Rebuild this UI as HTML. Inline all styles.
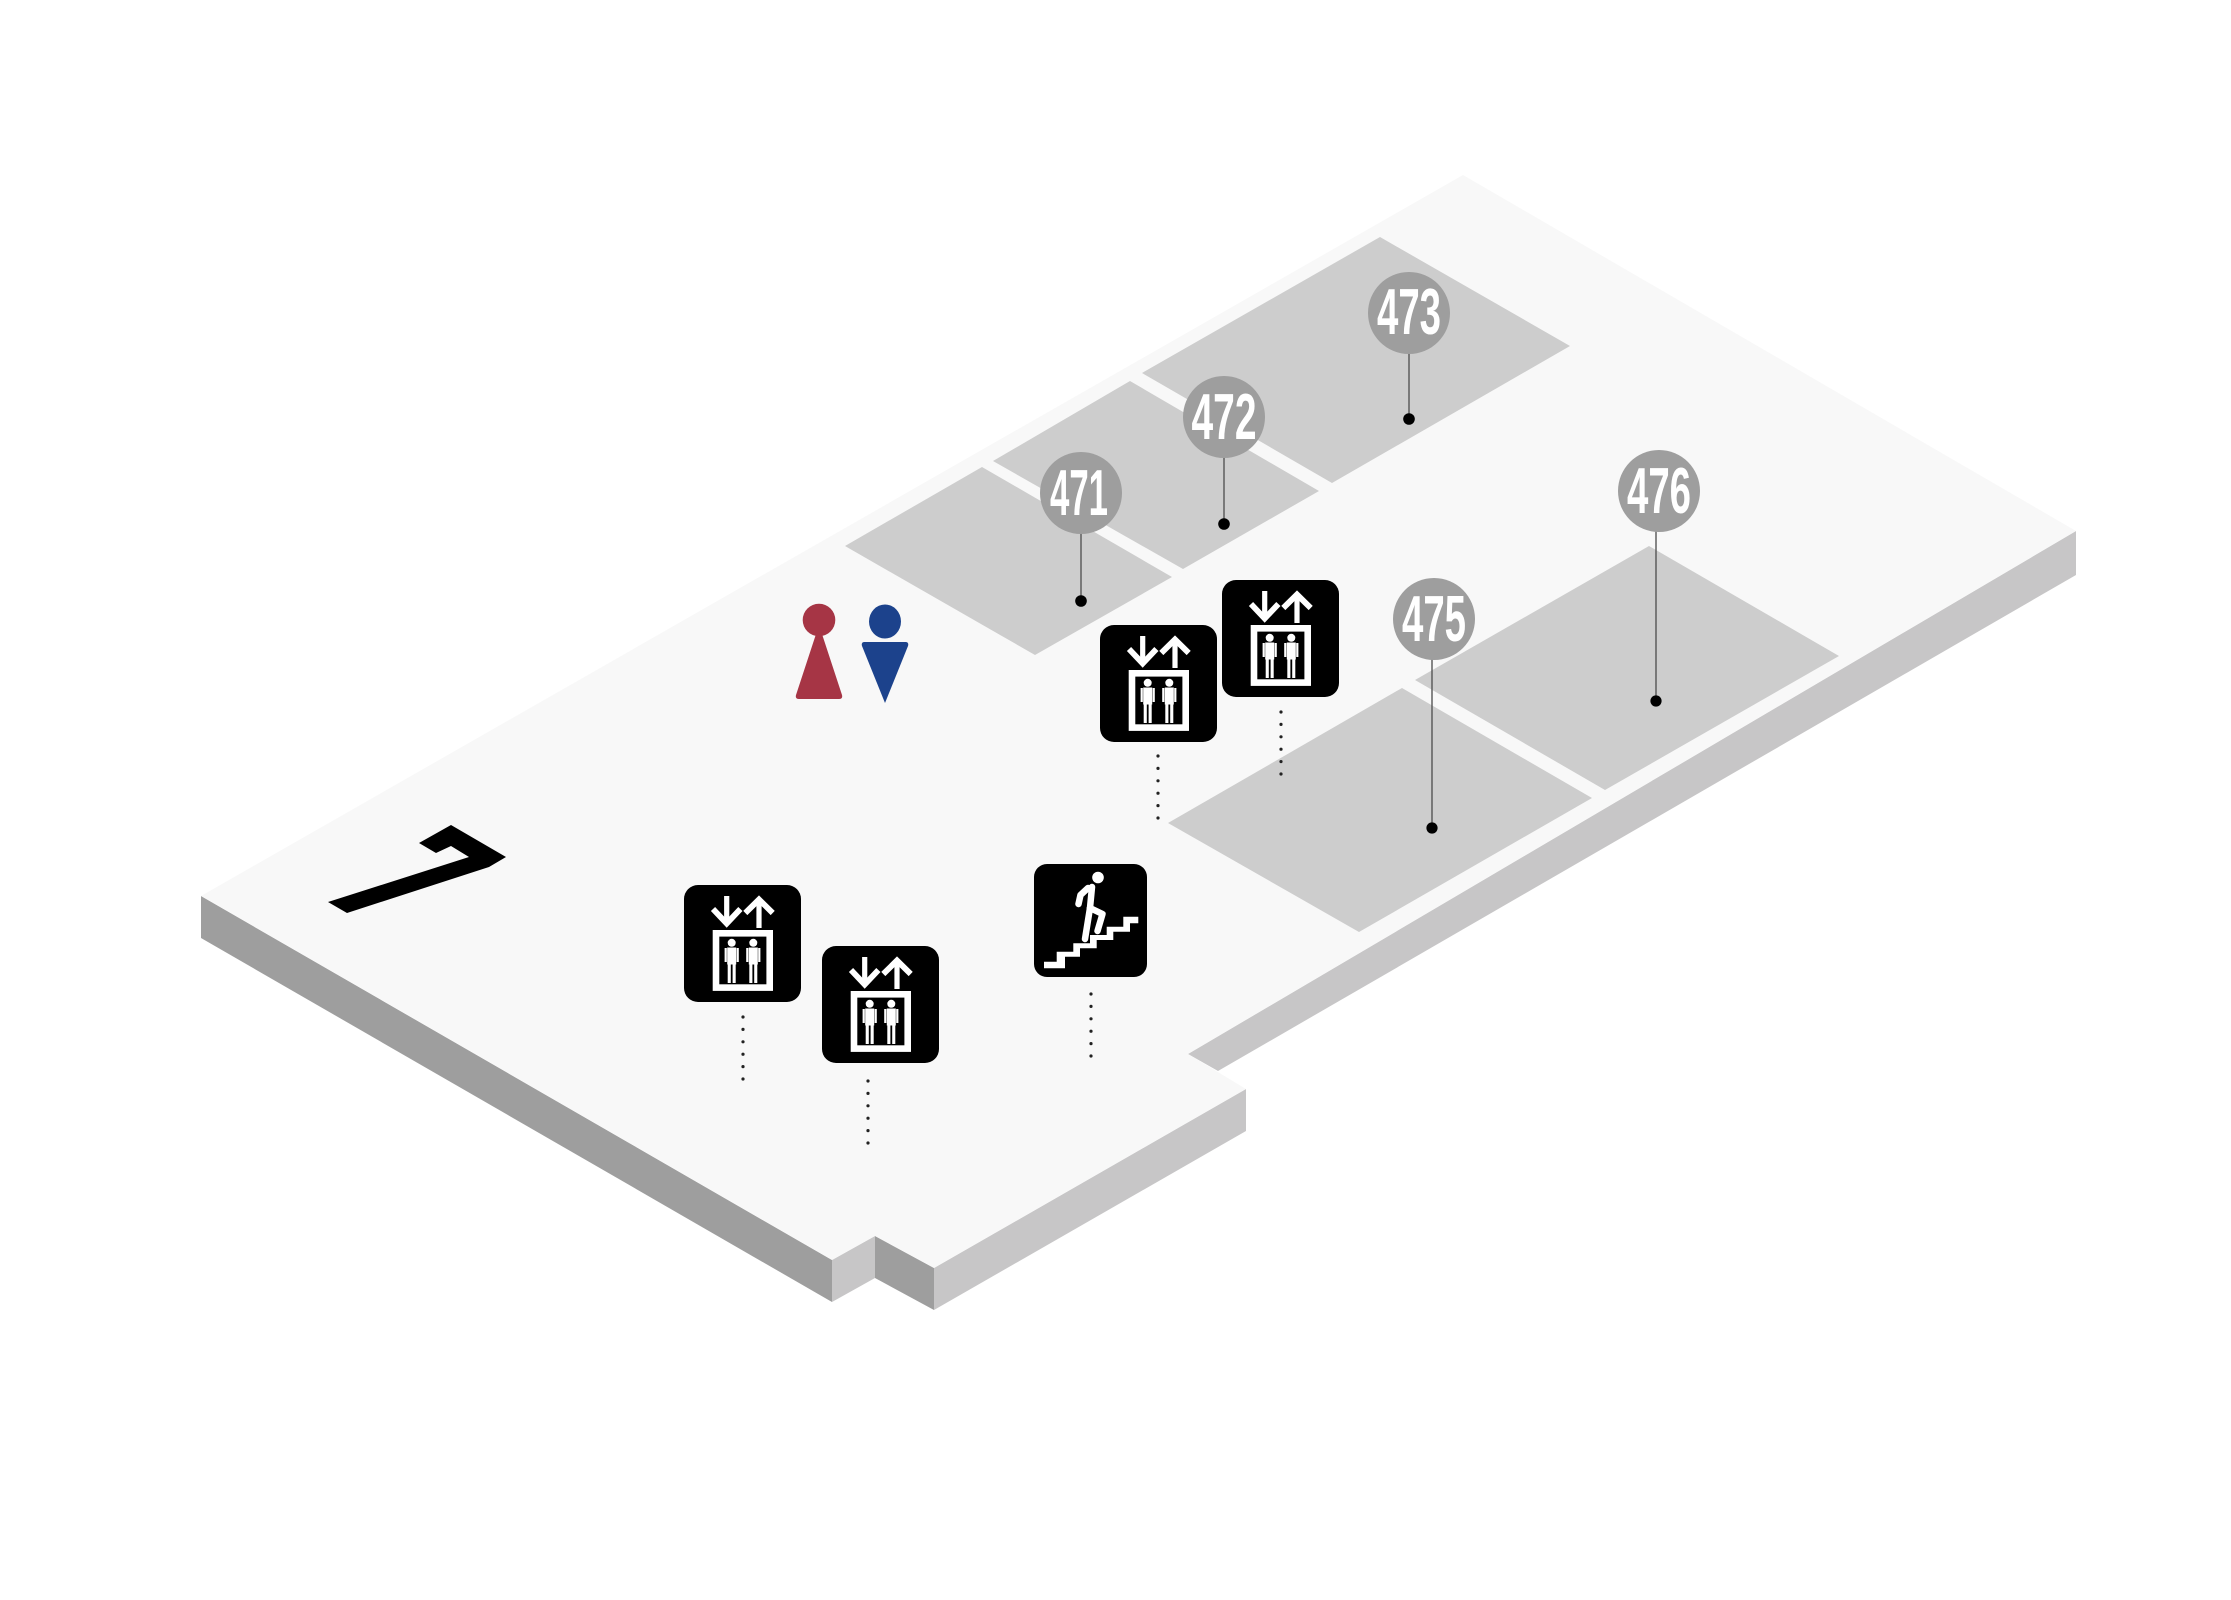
<!DOCTYPE html>
<html>
<head>
<meta charset="utf-8">
<style>
html,body{margin:0;padding:0;background:#ffffff;}
svg{display:block;}
.num{font-family:"Liberation Sans Narrow","Liberation Sans",sans-serif;font-weight:bold;font-size:65px;fill:#ffffff;}
</style>
</head>
<body>
<svg width="2231" height="1600" viewBox="0 0 2231 1600" xmlns="http://www.w3.org/2000/svg">
  <defs>
    <g id="elev">
      <rect x="0" y="0" width="117" height="117" rx="14" ry="14" fill="#000"/>
      <!-- down arrow -->
      <line x1="42.7" y1="11" x2="42.7" y2="37" stroke="#fff" stroke-width="5.2"/>
      <polyline points="29,24 42.7,38.5 56.4,24" fill="none" stroke="#fff" stroke-width="5.8"/>
      <!-- up arrow -->
      <line x1="75" y1="17" x2="75" y2="43" stroke="#fff" stroke-width="5.2"/>
      <polyline points="61.3,28 75,14.5 88.7,28" fill="none" stroke="#fff" stroke-width="5.8"/>
      <!-- frame -->
      <rect x="32" y="48.3" width="53.7" height="54.3" fill="none" stroke="#fff" stroke-width="6.6"/>
      <!-- people -->
      <g fill="#fff">
        <circle cx="47.7" cy="57.8" r="4"/>
        <rect x="43.2" y="62.5" width="9" height="17"/>
        <rect x="40.6" y="63" width="2.2" height="14"/>
        <rect x="52.6" y="63" width="2.2" height="14"/>
        <rect x="43.7" y="78" width="3.1" height="20"/>
        <rect x="48.6" y="78" width="3.1" height="20"/>
        <circle cx="69.3" cy="57.8" r="4"/>
        <rect x="64.8" y="62.5" width="9" height="17"/>
        <rect x="62.2" y="63" width="2.2" height="14"/>
        <rect x="74.2" y="63" width="2.2" height="14"/>
        <rect x="65.3" y="78" width="3.1" height="20"/>
        <rect x="70.2" y="78" width="3.1" height="20"/>
      </g>
    </g>
  </defs>

  <!-- side faces -->
  <polygon points="201,896 832,1260 832,1302 201,938" fill="#9e9e9e"/>
  <polygon points="832,1260 875,1236 875,1278 832,1302" fill="#c7c6c7"/>
  <polygon points="875,1236 934,1268 934,1310 875,1278" fill="#9e9e9e"/>
  <polygon points="934,1268 1246,1089 1246,1131 934,1310" fill="#c7c6c7"/>
  <polygon points="2076,531 1188,1054 1218,1071 2076,575" fill="#c7c6c7"/>

  <!-- top surface -->
  <polygon points="1463,175 2076,531 1188,1054 1246,1089 934,1268 875,1236 832,1260 201,896" fill="#f8f8f8"/>

  <!-- rooms -->
  <g fill="#cdcdcd">
    <polygon points="845,546 982,467 1172,577 1035,655"/>
    <polygon points="993,461 1130,381 1319,491 1183,569"/>
    <polygon points="1142,373 1380,237 1570,346 1332,483"/>
    <polygon points="1168,823 1402,688 1592,798 1359,932"/>
    <polygon points="1415,680 1649,546 1839,656 1605,790"/>
  </g>

  <!-- floor number 7 -->
  <polygon points="451,825 506,857 489,867 347,913 328,902 469,857 451,846 436,853 419,843" fill="#000"/>

  <!-- restroom icons -->
  <circle cx="819" cy="620" r="16.3" fill="#a63545"/>
  <path d="M817,631 L821,631 L842,695 Q843,699 839,699 L799,699 Q795,699 796,695 Z" fill="#a63545"/>
  <ellipse cx="885" cy="621.5" rx="16" ry="17" fill="#1c428c"/>
  <path d="M864,642 L906,642 Q909,642.5 908,646 L885,703 L862,646 Q861,642.5 864,642 Z" fill="#1c428c"/>

  <!-- elevators -->
  <use href="#elev" x="1100" y="625"/>
  <use href="#elev" x="1222" y="580"/>
  <use href="#elev" x="684" y="885"/>
  <use href="#elev" x="822" y="946"/>

  <!-- stairs -->
  <g transform="translate(1034,864)">
    <rect x="0" y="0" width="113" height="113" rx="13" ry="13" fill="#000"/>
    <polygon fill="#fff" points="10,97.7 22.7,97.7 22.7,87.7 39.3,87.7 39.3,79.3 56,79.3 56,71 72.7,71 72.7,62.7 89.3,62.7 89.3,52.7 104.3,52.7 104.3,59.3 96,59.3 96,67.7 79.3,67.7 79.3,76 62.7,76 62.7,84.3 46,84.3 46,92.7 31,92.7 31,104.3 10,104.3"/>
    <circle cx="64" cy="13.5" r="5.8" fill="#fff"/>
    <g stroke="#fff" stroke-width="6.5" stroke-linecap="round" stroke-linejoin="round" fill="none">
      <line x1="58" y1="23" x2="56" y2="44"/>
      <polyline points="54,24 46.5,31 44.5,40"/>
      <line x1="56" y1="44" x2="51" y2="75"/>
      <polyline points="56,44 68.5,50 63.5,67"/>
    </g>
  </g>

  <!-- dotted lines -->
  <g fill="#222">
    <circle cx="1158" cy="756" r="1.6"/><circle cx="1158" cy="768.4" r="1.6"/><circle cx="1158" cy="780.8" r="1.6"/><circle cx="1158" cy="793.2" r="1.6"/><circle cx="1158" cy="805.6" r="1.6"/><circle cx="1158" cy="818" r="1.6"/>
    <circle cx="1281" cy="712" r="1.6"/><circle cx="1281" cy="724.4" r="1.6"/><circle cx="1281" cy="736.8" r="1.6"/><circle cx="1281" cy="749.2" r="1.6"/><circle cx="1281" cy="761.6" r="1.6"/><circle cx="1281" cy="774" r="1.6"/>
    <circle cx="743" cy="1017" r="1.6"/><circle cx="743" cy="1029.4" r="1.6"/><circle cx="743" cy="1041.8" r="1.6"/><circle cx="743" cy="1054.2" r="1.6"/><circle cx="743" cy="1066.6" r="1.6"/><circle cx="743" cy="1079" r="1.6"/>
    <circle cx="868" cy="1081" r="1.6"/><circle cx="868" cy="1093.4" r="1.6"/><circle cx="868" cy="1105.8" r="1.6"/><circle cx="868" cy="1118.2" r="1.6"/><circle cx="868" cy="1130.6" r="1.6"/><circle cx="868" cy="1143" r="1.6"/>
    <circle cx="1091" cy="994" r="1.6"/><circle cx="1091" cy="1006.4" r="1.6"/><circle cx="1091" cy="1018.8" r="1.6"/><circle cx="1091" cy="1031.2" r="1.6"/><circle cx="1091" cy="1043.6" r="1.6"/><circle cx="1091" cy="1056" r="1.6"/>
  </g>

  <!-- label pins -->
  <g stroke="#555" stroke-width="1.4">
    <line x1="1081" y1="530" x2="1081" y2="601"/>
    <line x1="1224" y1="455" x2="1224" y2="524"/>
    <line x1="1409" y1="350" x2="1409" y2="419"/>
    <line x1="1432" y1="655" x2="1432" y2="828"/>
    <line x1="1656" y1="528" x2="1656" y2="701"/>
  </g>
  <g fill="#000">
    <circle cx="1081" cy="601" r="5.8"/>
    <circle cx="1224" cy="524" r="5.8"/>
    <circle cx="1409" cy="419" r="5.8"/>
    <circle cx="1432" cy="828" r="5.6"/>
    <circle cx="1656" cy="701" r="5.6"/>
  </g>
  <g fill="#9e9e9e">
    <circle cx="1081" cy="493" r="41"/>
    <circle cx="1224" cy="417" r="41"/>
    <circle cx="1409" cy="313" r="41"/>
    <circle cx="1434" cy="619" r="41"/>
    <circle cx="1659" cy="491" r="41"/>
  </g>
  <text class="num" x="1079" y="515" text-anchor="middle" textLength="58" lengthAdjust="spacingAndGlyphs">471</text>
  <text class="num" x="1224" y="439" text-anchor="middle" textLength="65" lengthAdjust="spacingAndGlyphs">472</text>
  <text class="num" x="1409" y="334" text-anchor="middle" textLength="64" lengthAdjust="spacingAndGlyphs">473</text>
  <text class="num" x="1434" y="641" text-anchor="middle" textLength="64" lengthAdjust="spacingAndGlyphs">475</text>
  <text class="num" x="1659" y="513" text-anchor="middle" textLength="64" lengthAdjust="spacingAndGlyphs">476</text>
</svg>
</body>
</html>
